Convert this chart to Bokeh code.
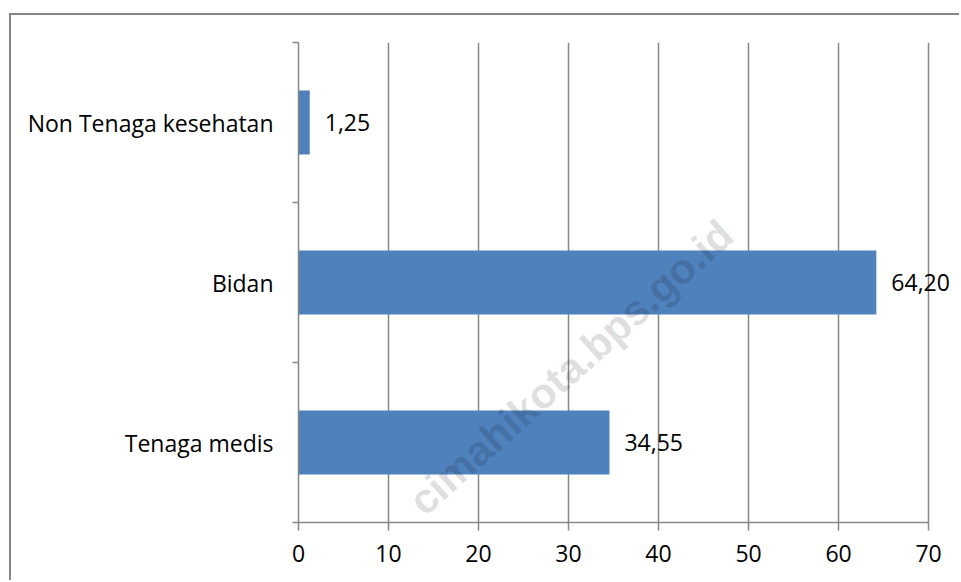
from bokeh.plotting import figure
from bokeh.models import (Range1d, FixedTicker, ColumnDataSource, LabelSet, Label)
from bokeh.core.properties import value
from bokeh.embed import file_html
from bokeh.resources import INLINE

# ---- data ----
categories = ["Tenaga medis", "Bidan", "Non Tenaga kesehatan"]
values = [34.55, 64.20, 1.25]
x_ticks = [0, 10, 20, 30, 40, 50, 60, 70]
watermark = "cimahikota.bps.go.id"

FONT = "Open Sans"
FSIZE = "23px"
GRAY = "#878787"
BAR = "#4F81BD"

n = len(categories)
centres = [i + 0.5 for i in range(n)]
value_labels = [f"{v:.2f}".replace(".", ",") for v in values]
src = ColumnDataSource(dict(pos=centres, val=values, lab=value_labels))

# frame extends a little past the last tick so the value labels are not clipped
p = figure(width=950, height=567,
           x_range=Range1d(x_ticks[0], 73.44),
           y_range=Range1d(0, n),
           output_backend="svg", toolbar_location=None,
           min_border_left=287, min_border_right=2,
           min_border_top=27, min_border_bottom=60)
p.margin = (13, 0, 0, 9)
p.styles = {"border-top": f"2px solid {GRAY}", "border-left": f"2px solid {GRAY}"}
p.outline_line_color = None
p.background_fill_color = "white"
p.border_fill_color = "white"

# bars
p.hbar(y="pos", left=0, right="val", height=0.4, source=src,
       fill_color=BAR, line_color=None)

# value labels
p.add_layout(LabelSet(x="val", y="pos", text="lab", source=src,
                      x_offset=15, text_baseline="middle", text_align="left",
                      text_font=value(FONT), text_font_size=value(FSIZE),
                      text_color="black"))

# x axis
xa = p.xaxis[0]
xa.ticker = FixedTicker(ticks=x_ticks)
xa.bounds = (x_ticks[0], x_ticks[-1])
xa.axis_line_color = GRAY
xa.axis_line_width = 1.5
xa.major_tick_line_color = GRAY
xa.major_tick_line_width = 1.5
xa.major_tick_out = 8
xa.major_tick_in = 0
xa.minor_tick_line_color = None
xa.major_label_text_font = FONT
xa.major_label_text_font_size = FSIZE
xa.major_label_text_color = "black"
xa.major_label_standoff = 14

p.xgrid.grid_line_color = GRAY
p.xgrid.grid_line_width = 1.5
p.ygrid.grid_line_color = None

# y axis: labels at category centres, ticks at category boundaries
ya = p.yaxis[0]
ya.ticker = FixedTicker(ticks=centres, minor_ticks=list(range(n + 1)))
ya.major_label_overrides = {c: name for c, name in zip(centres, categories)}
ya.axis_line_color = GRAY
ya.axis_line_width = 1.5
ya.major_tick_out = 0
ya.major_tick_in = 0
ya.major_tick_line_color = None
ya.minor_tick_out = 6
ya.minor_tick_in = 0
ya.minor_tick_line_color = GRAY
ya.minor_tick_line_width = 1.5
ya.major_label_standoff = 19
ya.major_label_text_font = FONT
ya.major_label_text_font_size = FSIZE
ya.major_label_text_color = "black"

# watermark
p.add_layout(Label(x=47.56, y=1.84, text=watermark,
                   text_align="right", text_baseline="middle", angle=0.73,
                   text_font="Liberation Sans", text_font_style="bold",
                   text_font_size="42px", text_color="black", text_alpha=0.14))

open("out.html", "w").write(file_html(p, INLINE))
